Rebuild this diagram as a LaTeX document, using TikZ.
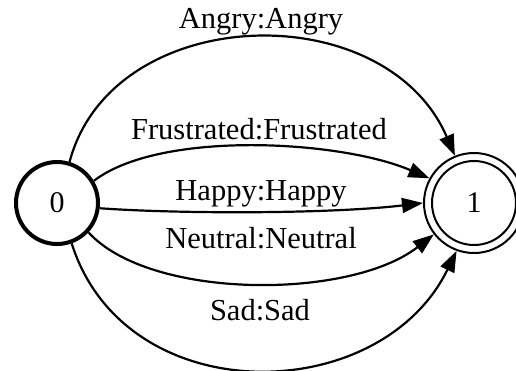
\documentclass[tikz,border=0pt]{standalone}
\usepackage{fontspec}
\setmainfont{Liberation Serif}
\usetikzlibrary{arrows.meta}
\begin{document}
\begin{tikzpicture}[x=1pt,y=-1pt,
  lbl/.style={font=\fontsize{30.5}{36}\selectfont, inner sep=0pt, anchor=base},
  edge/.style={line width=2.2pt, -{Triangle[length=21pt,width=15pt]}},
  st/.style={circle, font=\fontsize{30}{36}\selectfont, inner sep=0pt}]
\useasboundingbox (0,0) rectangle (516,370);
\node[st, draw, line width=4pt, minimum size=82pt] (n0) at (57,203) {0};
\node[st, draw, line width=2pt, minimum size=84pt] (n1i) at (474,203) {1};
\node[st, draw, line width=2pt, minimum size=100pt] (n1) at (474,203) {};
% edges
\draw[edge] (n0.73) .. controls (112,2) and (385,-6) .. (n1.112);
\draw[edge] (n0.31) .. controls (160,130) and (340,140) .. (n1.151);
\draw[edge] (n0.-7) .. controls (180,214) and (330,214) .. (n1.180);
\draw[edge] (n0.-43) .. controls (150,300) and (350,300) .. (n1.218);
\draw[edge] (n0.-70) .. controls (125,412) and (380,408) .. (n1.250);
% labels
\node[lbl] (la) at (261,28) {Angry:Angry};
\node[lbl] (lf) at (259,139) {Frustrated:Frustrated};
\node[lbl] (lh) at (261,200) {Happy:Happy};
\node[lbl] (ln) at (261,248) {Neutral:Neutral};
\node[lbl] (ls) at (260,320) {Sad:Sad};
\end{tikzpicture}
\end{document}
